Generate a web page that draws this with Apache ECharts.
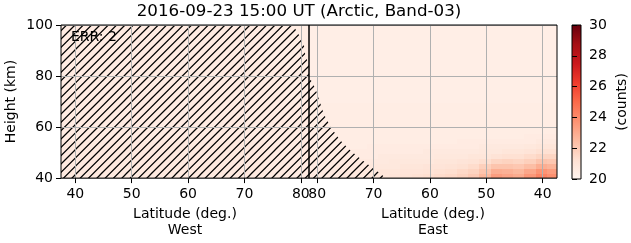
<!DOCTYPE html>
<html><head><meta charset="utf-8">
<script src="https://cdn.jsdelivr.net/npm/echarts@6/dist/echarts.min.js"></script>
<style>html,body{margin:0;padding:0;background:#fff}#c{width:631px;height:243px}</style>
</head><body><div id="c"></div>
<script>
const titleText = '2016-09-23 15:00 UT (Arctic, Band-03)';
const errText = 'ERR: 2';
const latTicks = [40, 50, 60, 70, 80];
const heightTicks = [40, 60, 80, 100];
const cbarTicks = [20, 22, 24, 26, 28, 30];
const latMin = 37.45, latMax = 81.45;

// East half: latitude bin edges and height bin edges
const eastLatEdges = [37.4,39.5,41.5,43.5,45.5,47.5,49.5,51.5,53.5,55.5,57.5,59.5,61.5,63.5,65.5,67.5,69.5,71.5,73.5,75.5,77.5,79.5,81.5];
const eastHeightEdges = [40,42,44,46,48,50,52,54,56,58,60,70,80,90,100];
// rows bottom->top, columns low lat -> high lat
const eastValues = [
 [23.8,24.2,23.6,23.0,23.2,23.4,22.6,22.0,21.7,21.5,21.4,21.3,21.2,21.1,21.0,20.9,20.9,20.8,20.8,20.7,20.7,20.7],
 [23.4,23.7,23.1,22.6,22.8,22.9,22.2,21.7,21.5,21.3,21.2,21.1,21.0,21.0,20.9,20.9,20.8,20.8,20.7,20.7,20.7,20.6],
 [22.7,22.9,22.4,22.1,22.2,22.2,21.8,21.4,21.2,21.1,21.0,21.0,20.9,20.9,20.8,20.8,20.8,20.7,20.7,20.7,20.6,20.6],
 [22.1,22.2,21.8,21.6,21.7,21.6,21.3,21.1,21.0,20.9,20.9,20.8,20.8,20.8,20.8,20.7,20.7,20.7,20.7,20.6,20.6,20.6],
 [21.6,21.6,21.4,21.2,21.2,21.1,20.9,20.9,20.8,20.8,20.8,20.7,20.7,20.7,20.7,20.7,20.6,20.6,20.6,20.6,20.6,20.6],
 [21.2,21.2,21.0,20.9,20.9,20.8,20.8,20.7,20.7,20.7,20.7,20.7,20.6,20.6,20.6,20.6,20.6,20.6,20.6,20.6,20.6,20.5],
 [20.9,20.9,20.8,20.7,20.7,20.7,20.7,20.6,20.6,20.6,20.6,20.6,20.6,20.6,20.6,20.6,20.6,20.5,20.5,20.5,20.5,20.5],
 [20.7,20.7,20.6,20.6,20.6,20.6,20.6,20.6,20.6,20.5,20.5,20.5,20.5,20.5,20.5,20.5,20.5,20.5,20.5,20.5,20.5,20.5],
 [20.6,20.6,20.6,20.5,20.5,20.5,20.5,20.5,20.5,20.5,20.5,20.5,20.5,20.5,20.5,20.5,20.5,20.5,20.5,20.5,20.5,20.5],
 [20.5,20.5,20.5,20.5,20.5,20.5,20.5,20.5,20.5,20.5,20.5,20.5,20.5,20.5,20.5,20.5,20.5,20.5,20.5,20.5,20.5,20.5],
 [20.5,20.5,20.5,20.5,20.5,20.5,20.5,20.5,20.5,20.5,20.5,20.5,20.5,20.5,20.5,20.5,20.5,20.5,20.5,20.5,20.5,20.5],
 [20.4,20.4,20.4,20.4,20.4,20.4,20.4,20.4,20.4,20.4,20.4,20.4,20.4,20.4,20.4,20.4,20.4,20.4,20.4,20.4,20.4,20.4],
 [20.4,20.4,20.4,20.4,20.4,20.4,20.4,20.4,20.4,20.4,20.4,20.4,20.4,20.4,20.4,20.4,20.4,20.4,20.4,20.4,20.4,20.4],
 [20.4,20.4,20.4,20.4,20.4,20.4,20.4,20.4,20.4,20.4,20.4,20.4,20.4,20.4,20.4,20.4,20.4,20.4,20.4,20.4,20.4,20.4]
];

// West half
const westLatEdges = [37.4,41.5,45.5,49.5,53.5,57.5,61.5,65.5,69.5,73.5,77.5,81.5];
const westHeightEdges = [40,55,70,85,100];
const westValues = [
 [20.7,20.7,20.7,20.7,20.7,20.7,20.7,20.7,20.7,20.6,20.6],
 [20.6,20.6,20.6,20.6,20.6,20.6,20.6,20.6,20.6,20.6,20.6],
 [20.6,20.6,20.6,20.6,20.6,20.6,20.6,20.6,20.6,20.6,20.5],
 [20.6,20.6,20.6,20.6,20.6,20.6,20.6,20.6,20.6,20.5,20.5]
];

// Hatched (invalid) regions, boundary polygons
const hatchWestLat = [37.4, 81.5, 81.5, 80.8, 80.5, 78.6, 37.4];
const hatchWestHeight = [40, 40, 84, 88, 93, 100, 100];
const hatchEastLat = [81.5, 67.8, 69.5, 72.0, 74.2, 76.0, 77.6, 78.8, 79.7, 80.3, 81.0, 81.5];
const hatchEastHeight = [40, 40, 43, 47, 51, 55, 60, 65, 71, 75, 78, 80];

const redsStops = ['#fff5f0','#fee0d2','#fcbba1','#fc9272','#fb6a4a','#ef3b2c','#cb181d','#a50f15','#67000d'];

function buildCells(latEdges, hEdges, vals) {
  const out = [];
  for (let r = 0; r < hEdges.length - 1; r++)
    for (let c = 0; c < latEdges.length - 1; c++)
      out.push([latEdges[c], latEdges[c+1], hEdges[r], hEdges[r+1], vals[r][c]]);
  return out;
}

// hatch pattern: 3 diagonal lines per 25px tile (spacing ~8.33px)
const S = 25;
const pc = document.createElement('canvas');
pc.width = S; pc.height = S;
const pctx = pc.getContext('2d');
pctx.strokeStyle = '#000'; pctx.lineWidth = 1.25;
pctx.beginPath();
for (let j = -1; j <= 7; j++) {
  const c = j * S / 3;
  pctx.moveTo(c - S - 1, S + 1); pctx.lineTo(c + 1, -1);
}
pctx.stroke();
const hatchFill = { image: pc, repeat: 'repeat' };

function cellRender(params, api) {
  const a = api.coord([api.value(0), api.value(2)]);
  const b = api.coord([api.value(1), api.value(3)]);
  const x0 = Math.floor(Math.min(a[0], b[0])), x1 = Math.ceil(Math.max(a[0], b[0]));
  const y0 = Math.floor(Math.min(a[1], b[1])), y1 = Math.ceil(Math.max(a[1], b[1]));
  return { type: 'rect', shape: { x: x0, y: y0, width: x1 - x0 + 1, height: y1 - y0 + 1 },
           style: { fill: api.visual('color') } };
}
function hatchRender(latArr, hArr) {
  return function (params, api) {
    const pts = latArr.map((l, i) => api.coord([l, hArr[i]]));
    return { type: 'polygon', shape: { points: pts }, style: { fill: hatchFill, stroke: null } };
  };
}

const FONT = 'DejaVu Sans';
const lblStyle = { fontSize: 14, color: '#000', fontFamily: FONT };
function xAxisDef(idx, inverse, name) {
  return { gridIndex: idx, type: 'value', min: latMin, max: latMax, inverse: inverse, z: 5,
    axisLine: { show: false },
    axisTick: { show: true, customValues: latTicks, length: 5, lineStyle: { color: '#000' } },
    axisLabel: Object.assign({ customValues: latTicks, margin: 9 }, lblStyle),
    splitLine: { show: true, lineStyle: { color: '#b0b0b0', width: 1 } },
    name: name, nameLocation: 'middle', nameGap: 27,
    nameTextStyle: { fontSize: 14, lineHeight: 16, color: '#000', fontFamily: FONT } };
}
function yAxisDef(idx, showLabels) {
  return { gridIndex: idx, type: 'value', min: 40, max: 100, interval: 20, z: 5,
    axisLine: { show: false },
    axisTick: { show: showLabels, length: 5, lineStyle: { color: '#000' } },
    axisLabel: Object.assign({ show: showLabels, margin: 8 }, lblStyle),
    splitLine: { show: true, lineStyle: { color: '#b0b0b0', width: 1 } },
    name: showLabels ? 'Height (km)' : '', nameLocation: 'middle', nameGap: 43,
    nameTextStyle: { fontSize: 14, color: '#000', fontFamily: FONT } };
}

const chart = echarts.init(document.getElementById('c'), null, { renderer: 'canvas' });
chart.setOption({
  animation: false,
  backgroundColor: '#fff',
  grid: [
    { left: 61, top: 25, width: 248, height: 154, show: true, borderColor: '#000', borderWidth: 1, z: 10, backgroundColor: 'transparent' },
    { left: 309, top: 25, width: 248, height: 154, show: true, borderColor: '#000', borderWidth: 1, z: 10, backgroundColor: 'transparent' },
    { left: 572, top: 25, width: 9, height: 154, show: true, borderColor: '#000', borderWidth: 1, z: 10, backgroundColor: 'transparent' }
  ],
  xAxis: [
    xAxisDef(0, false, 'Latitude (deg.)\nWest'),
    xAxisDef(1, true, 'Latitude (deg.)\nEast'),
    { gridIndex: 2, type: 'value', min: 0, max: 1, show: false }
  ],
  yAxis: [
    yAxisDef(0, true),
    yAxisDef(1, false),
    { gridIndex: 2, type: 'value', min: 20, max: 30, interval: 2, position: 'right', z: 5,
      axisLine: { show: false },
      axisTick: { show: true, length: 5, lineStyle: { color: '#000' } },
      axisLabel: Object.assign({ margin: 8 }, lblStyle),
      splitLine: { show: false },
      name: '(counts)', nameLocation: 'middle', nameGap: 34, nameRotate: 90,
      nameTextStyle: { fontSize: 14, color: '#000', fontFamily: FONT } }
  ],
  visualMap: {
    type: 'continuous', show: false, min: 20, max: 30, dimension: 4, seriesIndex: [0, 1],
    inRange: { color: redsStops }
  },
  series: [
    { type: 'custom', xAxisIndex: 0, yAxisIndex: 0, clip: true, z: 1, renderItem: cellRender,
      encode: { x: [0, 1], y: [2, 3] }, data: buildCells(westLatEdges, westHeightEdges, westValues) },
    { type: 'custom', xAxisIndex: 1, yAxisIndex: 1, clip: true, z: 1, renderItem: cellRender,
      encode: { x: [0, 1], y: [2, 3] }, data: buildCells(eastLatEdges, eastHeightEdges, eastValues) },
    { type: 'custom', xAxisIndex: 0, yAxisIndex: 0, clip: true, z: 3, renderItem: hatchRender(hatchWestLat, hatchWestHeight),
      encode: { x: 0, y: 1 }, data: [[hatchWestLat[0], hatchWestHeight[0]]] },
    { type: 'custom', xAxisIndex: 1, yAxisIndex: 1, clip: true, z: 3, renderItem: hatchRender(hatchEastLat, hatchEastHeight),
      encode: { x: 0, y: 1 }, data: [[hatchEastLat[0], hatchEastHeight[0]]] },
    { type: 'custom', xAxisIndex: 2, yAxisIndex: 2, clip: false, z: 1,
      encode: { x: [0, 2], y: [1, 3] }, data: [[0, cbarTicks[0], 1, cbarTicks[cbarTicks.length - 1]]],
      renderItem: function (params, api) {
        const a = api.coord([api.value(0), api.value(1)]);
        const b = api.coord([api.value(2), api.value(3)]);
        const stops = redsStops.map((c, i) => ({ offset: i / (redsStops.length - 1), color: c }));
        return { type: 'rect', shape: { x: a[0], y: b[1], width: b[0] - a[0], height: a[1] - b[1] },
          style: { fill: new echarts.graphic.LinearGradient(0, 1, 0, 0, stops) } };
      } }
  ],
  graphic: [
    { type: 'text', x: 299, y: 12, z: 20,
      style: { text: titleText, font: '16.7px "DejaVu Sans"', fill: '#000', textAlign: 'center', textVerticalAlign: 'middle' } },
    { type: 'text', x: 71, y: 37, z: 20,
      style: { text: errText, font: '14px "DejaVu Sans"', fill: '#000', textVerticalAlign: 'middle' } }
  ]
});
</script></body></html>
